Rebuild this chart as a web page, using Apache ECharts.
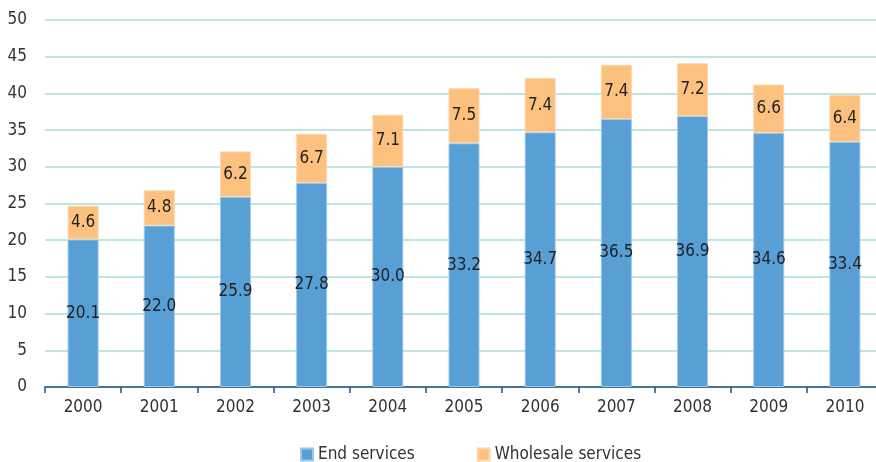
<!DOCTYPE html>
<html>
<head>
<meta charset="utf-8">
<script src="https://cdn.jsdelivr.net/npm/echarts@6/dist/echarts.min.js"></script>
<style>
  html, body { margin: 0; padding: 0; background: #fff; }
  #chart { width: 876px; height: 462px; }
</style>
</head>
<body>
<div id="chart"></div>
<script>
const years = ['2000', '2001', '2002', '2003', '2004', '2005', '2006', '2007', '2008', '2009', '2010'];
const endServices = [20.1, 22.0, 25.9, 27.8, 30.0, 33.2, 34.7, 36.5, 36.9, 34.6, 33.4];
const wholesaleServices = [4.6, 4.8, 6.2, 6.7, 7.1, 7.5, 7.4, 7.4, 7.2, 6.6, 6.4];
const yTicks = [0, 5, 10, 15, 20, 25, 30, 35, 40, 45, 50];

const FONT = '"Liberation Sans Narrow", "DejaVu Sans Condensed", "Roboto Condensed", sans-serif';

const chart = echarts.init(document.getElementById('chart'));

const labelStyle = {
  show: true,
  position: 'inside',
  color: '#222',
  fontFamily: FONT,
  fontSize: 17,
  formatter: p => p.value.toFixed(1)
};

chart.setOption({
  animation: false,
  textStyle: { fontFamily: FONT },
  // the plot runs slightly past the right edge of the canvas
  grid: { left: 45, width: 838, top: 20, bottom: 75, outerBoundsMode: 'none' },
  legend: {
    bottom: -6,
    left: 295,
    itemWidth: 12,
    itemHeight: 12,
    itemGap: 62,
    icon: 'rect',
    textStyle: { fontFamily: FONT, fontSize: 17, color: '#333' },
    data: ['End services', 'Wholesale services']
  },
  xAxis: {
    type: 'category',
    data: years,
    axisLine: { lineStyle: { color: '#1f4f7d', width: 1.5 } },
    axisTick: { show: true, length: 6, lineStyle: { color: '#1f4f7d', width: 1.5 } },
    axisLabel: { color: '#333', fontFamily: FONT, fontSize: 17, margin: 12 }
  },
  yAxis: {
    type: 'value',
    min: yTicks[0],
    max: yTicks[yTicks.length - 1],
    interval: 5,
    axisLine: { show: false },
    axisTick: { show: false },
    axisLabel: { color: '#333', fontFamily: FONT, fontSize: 17, margin: 18 },
    splitLine: { lineStyle: { color: '#a9dcd8', width: 1.5 } }
  },
  series: [
    {
      name: 'End services',
      type: 'bar',
      stack: 'total',
      barWidth: 31,
      data: endServices,
      itemStyle: { color: '#579fd5', borderColor: '#9cc8ea', borderWidth: 1 },
      label: labelStyle
    },
    {
      name: 'Wholesale services',
      type: 'bar',
      stack: 'total',
      barWidth: 31,
      data: wholesaleServices,
      itemStyle: { color: '#fdc17f', borderColor: '#fdd6ac', borderWidth: 1 },
      label: labelStyle
    }
  ]
});
</script>
</body>
</html>
